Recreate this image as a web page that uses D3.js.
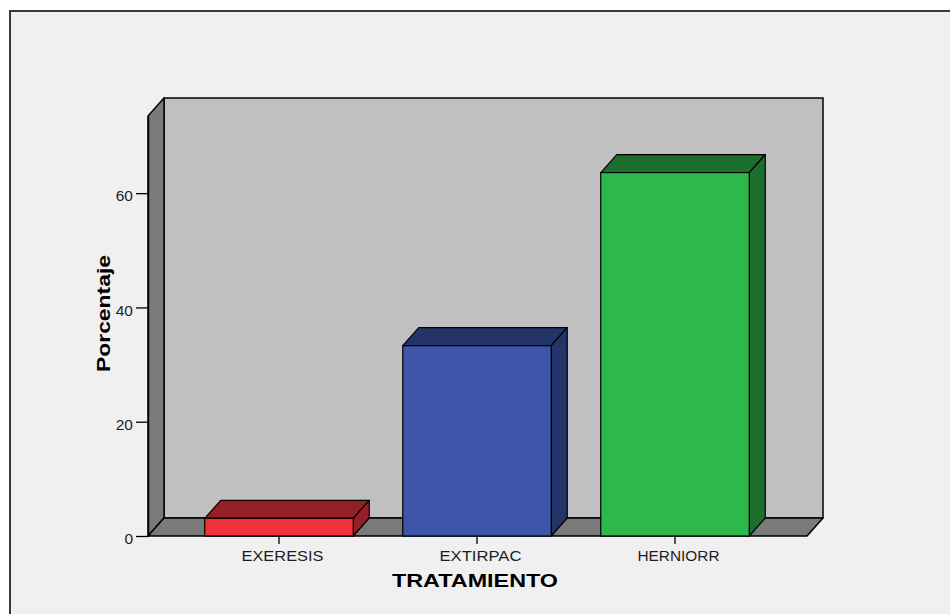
<!DOCTYPE html>
<html>
<head>
<meta charset="utf-8">
<script src="https://cdn.jsdelivr.net/npm/d3@7"></script>
<style>
  body { margin: 0; background: #ffffff; }
  svg { display: block; }
  text { font-family: Arial, "Liberation Sans", sans-serif; fill: #1e1e1e; }
</style>
</head>
<body>
<svg width="950" height="614"></svg>
<script>
// datos
const categorias = ["EXERESIS", "EXTIRPAC", "HERNIORR"];
const porcentajes = [3.1, 33.3, 63.6];
const ticksY = [0, 20, 40, 60];
const coresFrente = ["#f0323a", "#3d56a9", "#2eb84b"];
const coresSombra = ["#941f24", "#243468", "#1c6e2d"];

const svg = d3.select("svg");
const largura = parseFloat(svg.attr("width"));
const altura = parseFloat(svg.attr("height"));

// profundidad 3D
const dx = 16;
const dy = -18;

// moldura
svg.append("rect")
    .attr("x", 10).attr("y", 11)
    .attr("width", largura + 20).attr("height", altura + 20)
    .attr("fill", "#f0f0f0")
    .attr("stroke", "#383838")
    .attr("stroke-width", 2);

const y = d3.scaleLinear().domain([0, 73.5]).range([536, 116]);
const x = d3.scaleBand().domain(categorias).range([180, 774])
    .paddingInner(0.25).paddingOuter(0.125);

const x0 = 148, x1 = 807;
const y0 = y(0), yTopo = y(73.5);

const linha = d3.line();

// pared del fondo
svg.append("rect")
    .attr("x", x0 + dx).attr("y", yTopo + dy)
    .attr("width", x1 - x0).attr("height", y0 - yTopo)
    .attr("fill", "#c0c0c0")
    .attr("stroke", "#000").attr("stroke-width", 1.5);

// pared izquierda
svg.append("path")
    .attr("d", linha([[x0, y0], [x0, yTopo], [x0 + dx, yTopo + dy], [x0 + dx, y0 + dy]]) + "Z")
    .attr("fill", "#7a7a7a")
    .attr("stroke", "#000").attr("stroke-width", 1.5)
    .attr("stroke-linejoin", "round");

// piso
svg.append("path")
    .attr("d", linha([[x0, y0], [x0 + dx, y0 + dy], [x1 + dx, y0 + dy], [x1, y0]]) + "Z")
    .attr("fill", "#7a7a7a")
    .attr("stroke", "#000").attr("stroke-width", 1.5)
    .attr("stroke-linejoin", "round");

// barras
const barras = svg.append("g").selectAll("g")
    .data(categorias)
    .join("g");

barras.append("path")
    .attr("d", (d, i) => {
        const a = x(d), b = x(d) + x.bandwidth(), t = y(porcentajes[i]);
        return linha([[a, t], [a + dx, t + dy], [b + dx, t + dy], [b, t]]) + "Z";
    })
    .attr("fill", (d, i) => coresSombra[i])
    .attr("stroke", "#000").attr("stroke-width", 1.2)
    .attr("stroke-linejoin", "round");

barras.append("path")
    .attr("d", (d, i) => {
        const b = x(d) + x.bandwidth(), t = y(porcentajes[i]);
        return linha([[b, t], [b + dx, t + dy], [b + dx, y0 + dy], [b, y0]]) + "Z";
    })
    .attr("fill", (d, i) => coresSombra[i])
    .attr("stroke", "#000").attr("stroke-width", 1.2)
    .attr("stroke-linejoin", "round");

barras.append("rect")
    .attr("x", d => x(d))
    .attr("y", (d, i) => y(porcentajes[i]))
    .attr("width", x.bandwidth())
    .attr("height", (d, i) => y0 - y(porcentajes[i]))
    .attr("fill", (d, i) => coresFrente[i])
    .attr("stroke", "#000").attr("stroke-width", 1.2);

// eje Y
const eixoY = svg.append("g")
    .attr("transform", `translate(${x0},0)`)
    .call(d3.axisLeft(y).tickValues(ticksY).tickSize(12).tickSizeOuter(0).tickPadding(3));
eixoY.select(".domain").attr("stroke", "#000").attr("stroke-width", 1.5);
eixoY.selectAll(".tick line").attr("stroke", "#000").attr("stroke-width", 1.3);
eixoY.selectAll(".tick text")
    .attr("font-size", 15.5)
    .attr("dy", "0.5em")
    .attr("fill", "#1e1e1e")
    .style("font-family", "Arial, 'Liberation Sans', sans-serif");

// eje X
const eixoX = svg.append("g")
    .attr("transform", `translate(0,${y0})`)
    .call(d3.axisBottom(x).tickSize(8).tickSizeOuter(0).tickPadding(4));
eixoX.select(".domain").remove();
eixoX.selectAll(".tick line").attr("stroke", "#000").attr("stroke-width", 1.3);
eixoX.selectAll(".tick text")
    .attr("font-size", 14.5)
    .attr("dx", 3.5)
    .attr("dy", "0.9em")
    .attr("textLength", 82)
    .attr("lengthAdjust", "spacingAndGlyphs")
    .attr("fill", "#1e1e1e")
    .style("font-family", "Arial, 'Liberation Sans', sans-serif");

// títulos de los ejes
svg.append("text")
    .attr("x", 475).attr("y", 586.5)
    .attr("text-anchor", "middle")
    .attr("font-size", 18.5)
    .attr("font-weight", "bold")
    .attr("textLength", 166)
    .attr("lengthAdjust", "spacingAndGlyphs")
    .style("fill", "#000")
    .text("TRATAMIENTO");

svg.append("text")
    .attr("transform", "translate(109.5,313.5) rotate(-90)")
    .attr("text-anchor", "middle")
    .attr("font-size", 17.5)
    .attr("font-weight", "bold")
    .attr("textLength", 117)
    .attr("lengthAdjust", "spacingAndGlyphs")
    .style("fill", "#000")
    .text("Porcentaje");
</script>
</body>
</html>
